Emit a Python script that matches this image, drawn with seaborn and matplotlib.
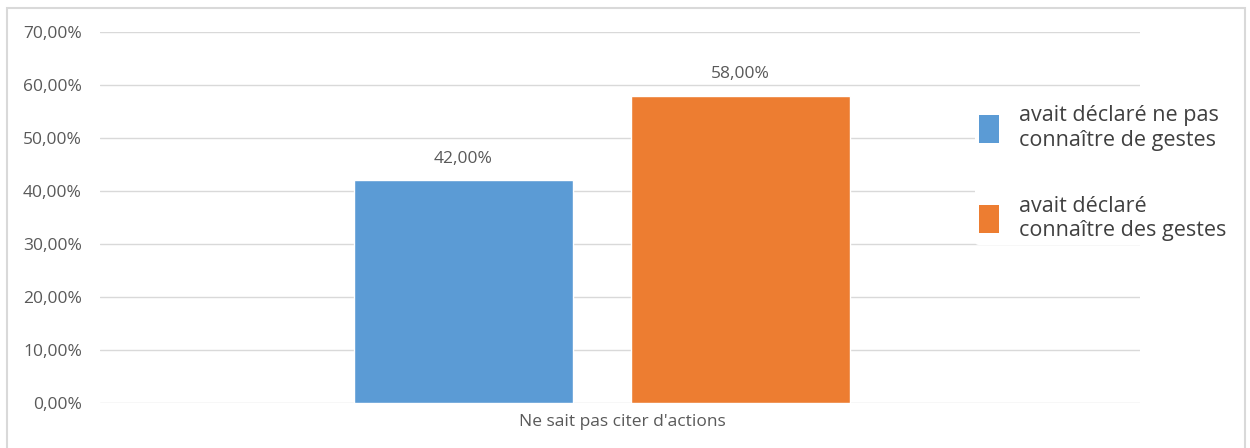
import matplotlib
matplotlib.use("Agg")
import matplotlib.pyplot as plt
import matplotlib.transforms as mtransforms
import seaborn as sns
import pandas as pd
from matplotlib.patches import Rectangle, Patch
from matplotlib.ticker import FuncFormatter

categories = ["Ne sait pas citer d'actions"]
series = ["avait déclaré ne pas\nconnaître de gestes", "avait déclaré\nconnaître des gestes"]
values = [0.42, 0.58]
colors = ["#5b9bd5", "#ed7d31"]
yticks = [0.0, 0.1, 0.2, 0.3, 0.4, 0.5, 0.6, 0.7]

df = pd.DataFrame({"cat": categories * len(series), "serie": series, "val": values})

sns.set_theme(style="white")
plt.rcParams["font.family"] = ["Open Sans", "DejaVu Sans"]

fig = plt.figure(figsize=(12.5, 4.48), dpi=100)
ax = fig.add_axes([0.08, 1 - 403 / 448, 0.832, (403 - 32) / 448])

sns.barplot(data=df, x="cat", y="val", hue="serie", palette=colors, width=0.895,
            gap=0.209, ax=ax, legend=False, saturation=1)

ax.set_ylim(0, 0.7)
ax.set_xlim(-0.811, 0.8695)
ax.set_yticks(yticks)
ax.yaxis.set_major_formatter(FuncFormatter(lambda v, p: f"{v*100:.2f}%".replace(".", ",")))
ax.grid(axis="y", color="#d9d9d9", linewidth=1)
ax.set_axisbelow(True)
for s in ax.spines.values():
    s.set_visible(False)
ax.tick_params(axis="both", length=0, labelsize=12.5, colors="#595959")
ax.tick_params(axis="y", pad=13)
ax.tick_params(axis="x", pad=8)
ax.set_xlabel("")
ax.set_ylabel("")
for lbl in ax.get_xticklabels():
    lbl.set_transform(lbl.get_transform() + mtransforms.ScaledTranslation(20 / 100, 0, fig.dpi_scale_trans))

for cont in ax.containers:
    ax.bar_label(cont, labels=[f"{v*100:.2f}%".replace(".", ",") for v in cont.datavalues],
                 padding=10, fontsize=12.5, color="#595959")

handles = [Patch(facecolor=c, edgecolor="none") for c in colors]
leg = ax.legend(handles, series, loc="upper left", bbox_to_anchor=(0.841, 0.814),
                frameon=True, fontsize=15.5, handlelength=0.95, handleheight=1.63,
                labelspacing=2.1, handletextpad=0.9, borderpad=0.2, borderaxespad=0)
leg.get_frame().set_facecolor("white")
leg.get_frame().set_edgecolor("none")
leg.get_frame().set_alpha(1)
for t in leg.get_texts():
    t.set_color("#404040")

fig.patches.append(Rectangle((7 / 1250, -0.05), 1238 / 1250, 1 - 8 / 448 + 0.05,
                             transform=fig.transFigure, fill=False,
                             edgecolor="#d9d9d9", linewidth=1.5))

fig.savefig("out.png", dpi=100, facecolor="white")
